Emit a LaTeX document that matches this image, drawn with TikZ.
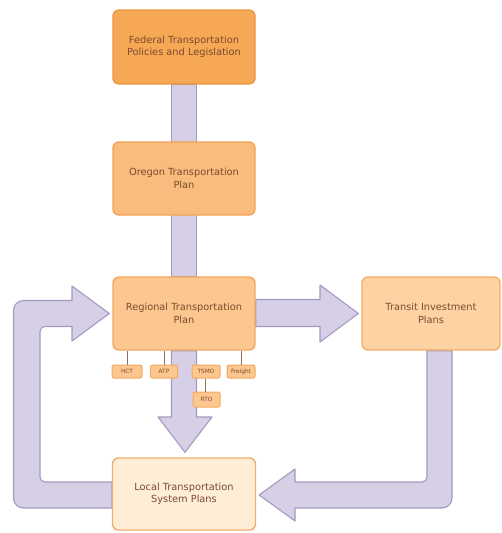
\documentclass[tikz,border=0pt]{standalone}
\usepackage{fontspec}
\setmainfont{DejaVu Sans}
\usetikzlibrary{backgrounds,calc}
\definecolor{txt}{HTML}{7A4A30}
\definecolor{afill}{HTML}{D6CFE6}
\definecolor{aline}{HTML}{A39AC0}
\definecolor{f1}{HTML}{F7A855}\definecolor{b1}{HTML}{EC9640}
\definecolor{f2}{HTML}{FABC7D}\definecolor{b2}{HTML}{F2A458}
\definecolor{f3}{HTML}{FCC78E}\definecolor{b3}{HTML}{F2A860}
\definecolor{f4}{HTML}{FDD3A3}\definecolor{b4}{HTML}{F4AE68}
\definecolor{f5}{HTML}{FEEED8}\definecolor{b5}{HTML}{F2AE6C}
\tikzset{
  bigbox/.style={draw, line width=1.4pt, rounded corners=6pt, align=center,
    text=txt, font=\fontsize{9.8}{12.5}\selectfont, inner sep=0pt},
  tagbox/.style={draw=b3, fill=f3, line width=1pt, rounded corners=2pt,
    text=txt, font=\fontsize{5.8}{6.5}\selectfont, inner sep=0pt, minimum height=13pt},
  tagline/.style={draw=txt!80, line width=0.6pt},
  blockarrow/.style={fill=afill, draw=aline, line width=1.1pt, line join=round},
}
\begin{document}
\begin{tikzpicture}[x=1pt,y=-1pt]
\useasboundingbox (0,0) rectangle (501,533);
\node[bigbox, fill=f1, draw=b1, minimum width=142pt, minimum height=74pt] (fed) at (184,47)
  {Federal Transportation\\Policies and Legislation};
\node[bigbox, fill=f2, draw=b2, minimum width=142pt, minimum height=73pt] (ore) at (184,178.5)
  {Oregon Transportation\\Plan};
\node[bigbox, fill=f3, draw=b3, minimum width=142pt, minimum height=73pt] (rtp) at (184,313.5)
  {Regional Transportation\\Plan};
\node[bigbox, fill=f4, draw=b4, minimum width=138pt, minimum height=73pt] (tip) at (431,313.5)
  {Transit Investment\\Plans};
\node[bigbox, fill=f5, draw=b5, minimum width=143pt, minimum height=72pt] (lts) at (184,494)
  {Local Transportation\\System Plans};
\node[tagbox, minimum width=30pt] (hct) at (127,371.5) {HCT};
\node[tagbox, minimum width=27pt] (atp) at (164,371.5) {ATP};
\node[tagbox, minimum width=28pt] (tsmo) at (206,371.5) {TSMO};
\node[tagbox, minimum width=28pt] (frt) at (241,371.5) {Freight};
\node[tagbox, minimum width=27pt, minimum height=15pt] (rto) at (206.5,399.5) {RTO};
\begin{scope}[on background layer]
  \fill[white] (0,0) rectangle (501,533);
  % fed -> ore -> rtp vertical bar
  \path[blockarrow] ($(fed.south)+(-12.5,0)$) rectangle ($(rtp.north)+(12.5,0)$);
  % rtp -> lts
  \path[blockarrow] ($(rtp.south)+(-12.5,0)$) -- (171.5,417) -- (158,417)
     -- ($(lts.north)+(1,-5)$) -- (212,417) -- (196.5,417) -- ($(rtp.south)+(12.5,0)$) -- cycle;
  % rtp -> tip
  \path[blockarrow] ($(rtp.east)+(0,-14)$) -- (320,299.5) -- (320,285)
     -- ($(tip.west)+(-3,0)$) -- (320,342) -- (320,326.5) -- ($(rtp.east)+(0,13)$) -- cycle;
  % left loop lts -> rtp
  \path[blockarrow] ($(lts.west)+(0,-12)$) [rounded corners=5pt] -- (40,482) -- (40,326.5)
     [sharp corners] -- (72,326.5) -- (72,341) -- ($(rtp.west)+(-3,0)$) -- (72,286)
     -- (72,300.5) [rounded corners=10pt] -- (13.5,300.5) -- (13.5,508) [sharp corners]
     -- ($(lts.west)+(0,14)$) -- cycle;
  % right loop tip -> lts
  \path[blockarrow] ($(tip.south)+(-4,0)$) [rounded corners=5pt] -- (427,482) [sharp corners]
     -- (295,482) -- (295,469) -- ($(lts.east)+(3,1)$) -- (295,521) -- (295,508)
     [rounded corners=10pt] -- (452,508) [sharp corners] -- ($(tip.south)+(21,0)$) -- cycle;
\end{scope}
\draw[tagline] (hct.north) -- (hct.north |- rtp.south);
\draw[tagline] (atp.north) -- (atp.north |- rtp.south);
\draw[tagline] ($(tsmo.north)+(-3,0)$) -- ($(tsmo.north)+(-3,0)$ |- rtp.south);
\draw[tagline] (frt.north) -- (frt.north |- rtp.south);
\draw[tagline] ($(rto.north)+(-1,0)$) -- ($(tsmo.south)+(-0.5,0)$);
\end{tikzpicture}
\end{document}
